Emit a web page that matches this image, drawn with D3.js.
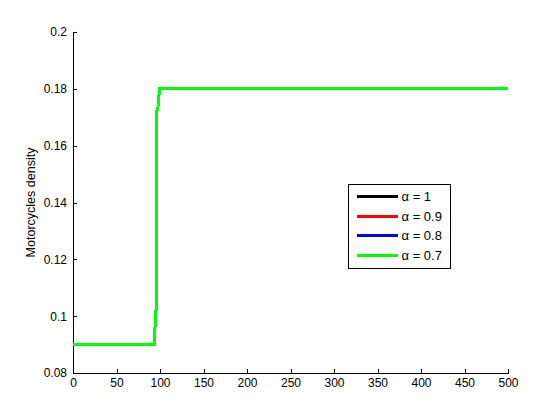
<!DOCTYPE html>
<html>
<head>
<meta charset="utf-8">
<script src="https://cdn.jsdelivr.net/npm/d3@7"></script>
<style>
  html, body { margin: 0; padding: 0; background: #fff; }
  #chart { width: 560px; height: 420px; }
  text { font-family: "Liberation Sans", Arial, sans-serif; }
</style>
</head>
<body>
<div id="chart"></div>
<script>
// time steps and density (same curve for every alpha)
const timeSteps = [0, 94, 94.5, 95.5, 96, 97.5, 99.5, 500];
const density = [0.09, 0.09, 0.101, 0.102, 0.172, 0.173, 0.18, 0.18];

const seriesNames = ['\u03B1 = 1', '\u03B1 = 0.9', '\u03B1 = 0.8', '\u03B1 = 0.7'];
const seriesColors = ['#000000', '#ff0000', '#0000ff', '#00ff00'];

const xTicks = [0, 50, 100, 150, 200, 250, 300, 350, 400, 450, 500];
const yTicks = [0.08, 0.1, 0.12, 0.14, 0.16, 0.18, 0.2];

class StepChart {
  constructor(selector) {
    this.margin = { left: 73, right: 52, top: 32, bottom: 47 };
    this.width = 560;
    this.height = 420;

    this.dom = document.querySelector(selector) || document.querySelector('body');
    this.svg = d3.select(this.dom).append('svg')
      .attr('width', this.width)
      .attr('height', this.height);

    this.x = d3.scaleLinear()
      .domain([0, 500])
      .range([this.margin.left, this.width - this.margin.right]);
    this.y = d3.scaleLinear()
      .domain([0.08, 0.2])
      .range([this.height - this.margin.bottom, this.margin.top]);
  }

  drawAxes() {
    const xAxis = d3.axisBottom(this.x)
      .tickValues(xTicks)
      .tickFormat(d3.format('d'))
      .tickSizeInner(-4)
      .tickSizeOuter(0)
      .tickPadding(5);

    const yAxis = d3.axisLeft(this.y)
      .tickValues(yTicks)
      .tickFormat(d3.format('~g'))
      .tickSizeInner(-4)
      .tickSizeOuter(0)
      .tickPadding(6);

    const gx = this.svg.append('g')
      .attr('transform', `translate(0,${this.height - this.margin.bottom})`)
      .call(xAxis);
    const gy = this.svg.append('g')
      .attr('transform', `translate(${this.margin.left},0)`)
      .call(yAxis);

    [gx, gy].forEach(g => {
      g.selectAll('text').attr('font-size', 12).attr('fill', '#000');
      g.selectAll('line, path').attr('stroke', '#000').attr('shape-rendering', 'crispEdges');
      g.attr('font-family', null);
    });

    this.svg.append('text')
      .attr('transform', `translate(35,${(this.y(0.08) + this.y(0.2)) / 2}) rotate(-90)`)
      .attr('text-anchor', 'middle')
      .attr('font-size', 12.5)
      .text('Motorcycles density');
  }

  drawLines() {
    const pts = timeSteps.map((t, i) => [t, density[i]]);
    const line = d3.line()
      .x(d => this.x(d[0]))
      .y(d => this.y(d[1]));

    seriesColors.forEach(color => {
      this.svg.append('path')
        .datum(pts)
        .attr('d', line)
        .attr('fill', 'none')
        .attr('stroke', color)
        .attr('stroke-width', 3)
        .attr('shape-rendering', 'crispEdges');
    });
  }

  drawLegend() {
    const g = this.svg.append('g').attr('transform', 'translate(348.5,184.5)');
    g.append('rect')
      .attr('width', 102)
      .attr('height', 84)
      .attr('fill', '#fff')
      .attr('stroke', '#000')
      .attr('shape-rendering', 'crispEdges');

    seriesNames.forEach((name, i) => {
      const yy = 12 + i * 19.6;
      g.append('line')
        .attr('x1', 8).attr('x2', 49)
        .attr('y1', yy).attr('y2', yy)
        .attr('stroke', seriesColors[i])
        .attr('stroke-width', 3)
        .attr('shape-rendering', 'crispEdges');
      g.append('text')
        .attr('x', 53)
        .attr('y', yy + 4.5)
        .attr('font-size', 13)
        .text(name);
    });
  }
}

const chart = new StepChart('#chart');
chart.drawAxes();
chart.drawLines();
chart.drawLegend();
</script>
</body>
</html>
